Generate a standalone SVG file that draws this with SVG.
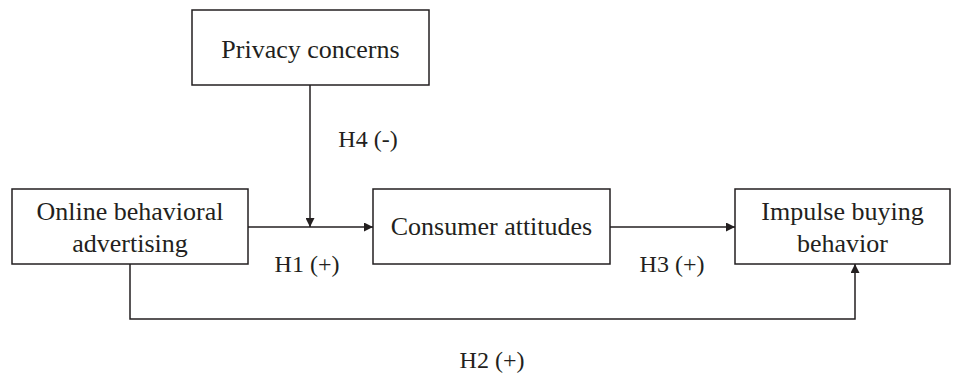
<svg xmlns="http://www.w3.org/2000/svg" width="960" height="376" viewBox="0 0 960 376">
<defs>
<style>
.box{fill:#fff;stroke:#231f20;stroke-width:1.5}
.t{font-family:"Liberation Serif","Times New Roman",serif;font-size:26px;fill:#231f20;text-anchor:middle}
.lbl{font-family:"Liberation Serif","Times New Roman",serif;font-size:24px;fill:#231f20;text-anchor:middle}
.c{fill:none;stroke:#231f20;stroke-width:1.5}
</style>
<marker id="ah" viewBox="0 0 10 10" refX="10" refY="5" markerWidth="9" markerHeight="9" markerUnits="userSpaceOnUse" orient="auto">
<path d="M0,0 L10,5 L0,10 Z" fill="#231f20"/>
</marker>
</defs>
<rect width="960" height="376" fill="#fff"/>
<g id="privacy">
<rect class="box" x="192" y="10" width="237" height="75"/>
<text class="t" x="310.5" y="58">Privacy concerns</text>
</g>
<g id="oba">
<rect class="box" x="12" y="189" width="236" height="75"/>
<text class="t" x="130" y="220">Online behavioral</text>
<text class="t" x="130" y="252">advertising</text>
</g>
<g id="attitudes">
<rect class="box" x="373" y="189" width="237" height="75"/>
<text class="t" x="491.5" y="235">Consumer attitudes</text>
</g>
<g id="impulse">
<rect class="box" x="735" y="189" width="215" height="75"/>
<text class="t" x="842.5" y="220">Impulse buying</text>
<text class="t" x="842.5" y="252">behavior</text>
</g>
<g id="connectors">
<line class="c" x1="248" y1="227" x2="373" y2="227" marker-end="url(#ah)"/>
<line class="c" x1="310" y1="85" x2="310" y2="227" marker-end="url(#ah)"/>
<line class="c" x1="610" y1="227" x2="735" y2="227" marker-end="url(#ah)"/>
<polyline class="c" points="130,264 130,319 855,319 855,264" marker-end="url(#ah)"/>
</g>
<g id="labels">
<text class="lbl" x="368" y="147">H4 (-)</text>
<text class="lbl" x="307" y="272">H1 (+)</text>
<text class="lbl" x="672" y="272">H3 (+)</text>
<text class="lbl" x="492" y="368">H2 (+)</text>
</g>
</svg>
